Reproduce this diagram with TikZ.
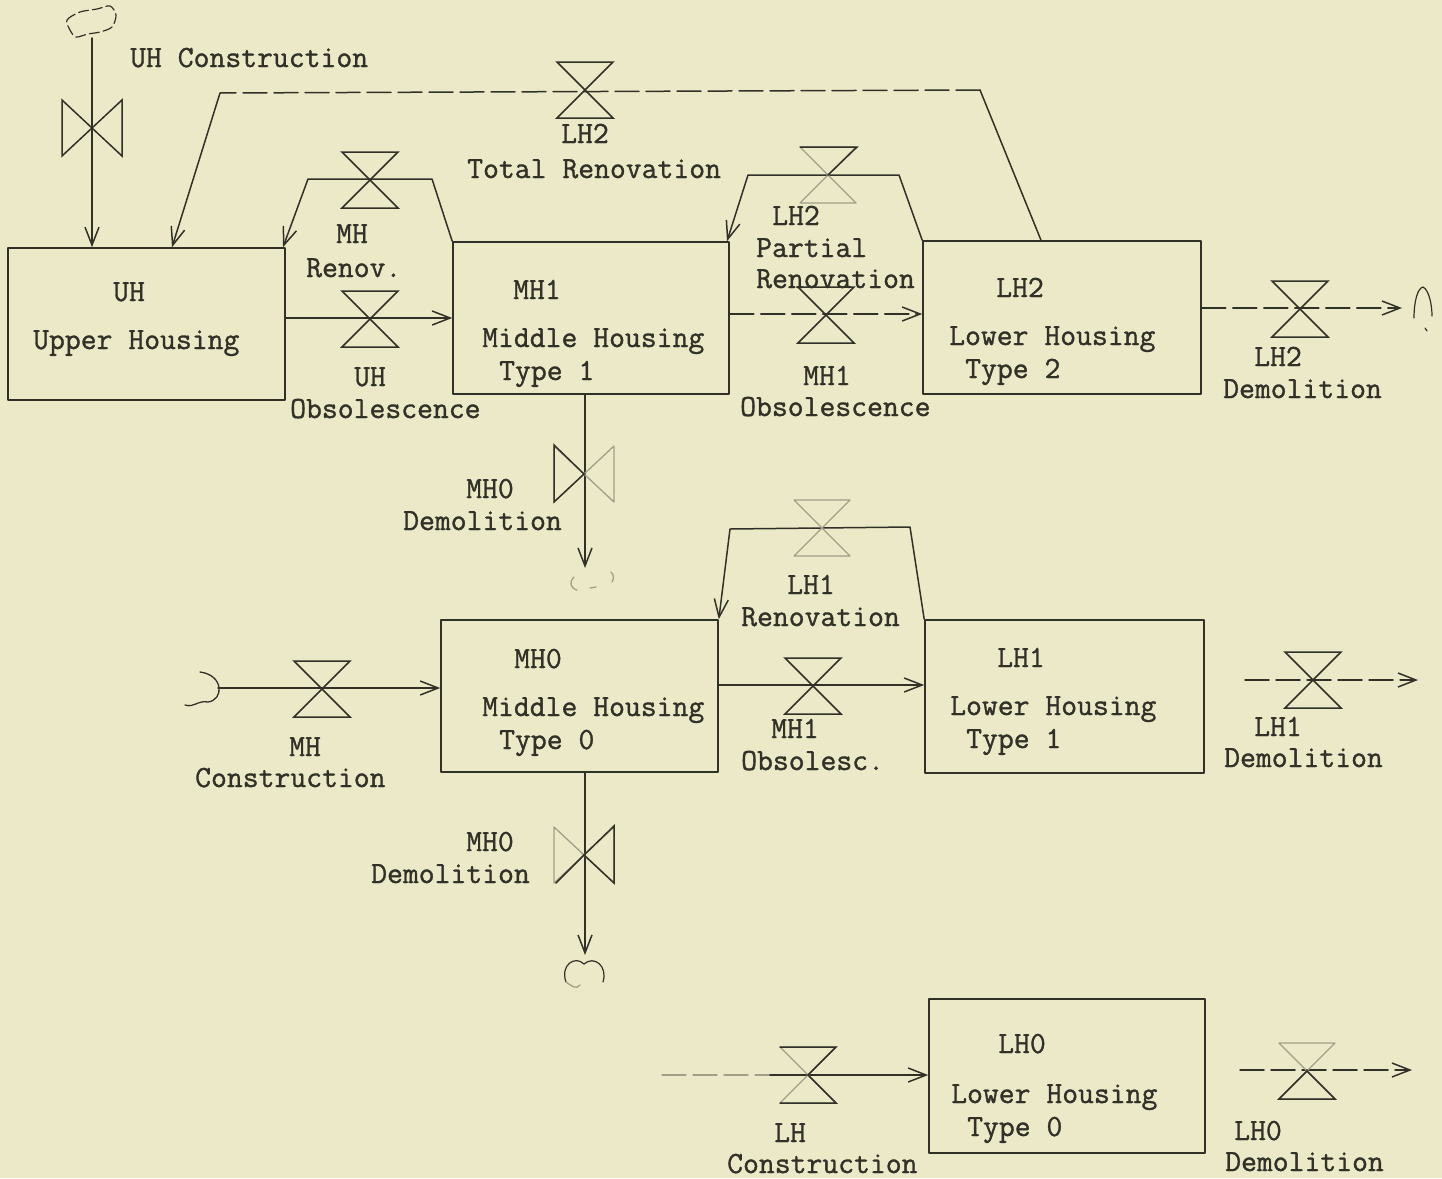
\documentclass[tikz,border=0pt]{standalone}
\usepackage{fontspec}
\newfontfamily\tw[FakeBold=1.1]{Latin Modern Mono}
\usetikzlibrary{arrows.meta,calc}
\definecolor{bg}{RGB}{236,233,200}
\definecolor{ink}{RGB}{50,49,40}
\begin{document}
\begin{tikzpicture}[x=1pt,y=-1pt, line cap=round, line join=round,
  stock/.style={draw=ink, line width=1.6pt, rectangle, inner sep=0pt},
  txt/.style={font=\tw\fontsize{30.8}{36}\selectfont, text=ink, inner sep=0pt, anchor=base west},
  flowline/.style={draw=ink, line width=1.5pt},
  arr/.style={-{Straight Barb[length=18pt,width=14pt]}},
  dashline/.style={dash pattern=on 24pt off 7pt},
  valvesty/.style={draw=ink, line width=1.5pt, line join=miter},
  fade/.style={draw=ink!40!bg, line width=1.3pt},
  hvalve/.pic={\path[pic actions] (-28,-28) -- (28,-28) -- (-28,28) -- (28,28) -- cycle;},
  vvalve/.pic={\path[pic actions] (-30,-28) -- (-30,28) -- (30,-28) -- (30,28) -- cycle;},
]
\fill[bg] (0,0) rectangle (1442,1178);
\useasboundingbox (0,0) rectangle (1442,1178);

% ---------- stocks ----------
\node[stock, minimum width=277pt, minimum height=152pt] (UH)  at (146.5,324) {};
\node[stock, minimum width=276pt, minimum height=152pt] (MH1) at (591,318) {};
\node[stock, minimum width=278pt, minimum height=153pt] (LH2) at (1062,317.5) {};
\node[stock, minimum width=277pt, minimum height=152pt] (MH0) at (579.5,696) {};
\node[stock, minimum width=279pt, minimum height=153pt] (LH1) at (1064.5,696.5) {};
\node[stock, minimum width=276pt, minimum height=154pt] (LH0) at (1067,1076) {};

% ---------- texts ----------
\node[txt] (t01) at (130,67) {UH Construction};
\node[txt] (t02) at (113,301) {UH};
\node[txt] (t03) at (33,349) {Upper Housing};
\node[txt] (t04) at (336,243) {MH};
\node[txt] (t05) at (306,277) {Renov.};
\node[txt] (t06) at (354,386) {UH};
\node[txt] (t07) at (290,418) {Obsolescence};
\node[txt] (t08) at (561,143) {LH2};
\node[txt] (t09) at (467,178) {Total Renovation};
\node[txt] (t10) at (513,299) {MH1};
\node[txt] (t11) at (482,347) {Middle Housing};
\node[txt] (t12) at (499,380) {Type 1};
\node[txt] (t13) at (772,225) {LH2};
\node[txt] (t14) at (756,257) {Partial};
\node[txt] (t15) at (756,288) {Renovation};
\node[txt] (t16) at (803,385) {MH1};
\node[txt] (t17) at (740,416) {Obsolescence};
\node[txt] (t18) at (996,297) {LH2};
\node[txt] (t19) at (949,345) {Lower Housing};
\node[txt] (t20) at (965,378) {Type 2};
\node[txt] (t21) at (1254,366) {LH2};
\node[txt] (t22) at (1223,398) {Demolition};
\node[txt] (t23) at (466,498) {MH0};
\node[txt] (t24) at (403,530) {Demolition};
\node[txt] (t25) at (514,668) {MH0};
\node[txt] (t26) at (482,716) {Middle Housing};
\node[txt] (t27) at (499,749) {Type 0};
\node[txt] (t28) at (787,594) {LH1};
\node[txt] (t29) at (741,626) {Renovation};
\node[txt] (t30) at (289,756) {MH};
\node[txt] (t31) at (195,787) {Construction};
\node[txt] (t32) at (771,738) {MH1};
\node[txt] (t33) at (741,770) {Obsolesc.};
\node[txt] (t34) at (997,667) {LH1};
\node[txt] (t35) at (950,715) {Lower Housing};
\node[txt] (t36) at (966,748) {Type 1};
\node[txt] (t37) at (1254,736) {LH1};
\node[txt] (t38) at (1224,767) {Demolition};
\node[txt] (t39) at (466,851) {MH0};
\node[txt] (t40) at (371,883) {Demolition};
\node[txt] (t41) at (998,1053) {LH0};
\node[txt] (t42) at (951,1103) {Lower Housing};
\node[txt] (t43) at (967,1136) {Type 0};
\node[txt] (t44) at (774,1142) {LH};
\node[txt] (t45) at (727,1173) {Construction};
\node[txt] (t46) at (1234,1140) {LH0};
\node[txt] (t47) at (1225,1171) {Demolition};

% ---------- named points ----------
\coordinate (src1) at (92,38);
\coordinate (tra) at (980,90);
\coordinate (trb) at (220,93);
\coordinate (mra) at (432,179);
\coordinate (mrb) at (308,179);
\coordinate (pra) at (899,175);
\coordinate (prb) at (748,175);
\coordinate (snk1) at (1402,308);
\coordinate (snk2) at (585,568);
\coordinate (src2) at (218,688);
\coordinate (snk3) at (585,955);
\coordinate (lra) at (910,527);
\coordinate (lrb) at (730,529);
\coordinate (l1a) at (1245,680);
\coordinate (l1b) at (1418,680);
\coordinate (lca) at (662,1075);
\coordinate (lcb) at (770,1075);
\coordinate (l0a) at (1240,1070);
\coordinate (l0b) at (1412,1070);

% ---------- flows ----------
\draw[flowline, arr] (src1) -- (UH.north -| src1);
\draw[flowline] (LH2.north -| 1041,0) -- (tra);
\draw[flowline, dashline] (tra) -- (trb);
\draw[flowline, arr] (trb) -- (UH.north -| 172,0);
\draw[flowline, arr] (MH1.north west) -- (mra) -- (mrb) -- (UH.north -| 283,0);
\draw[flowline, arr] (LH2.north west) -- (pra) -- (prb) -- (MH1.north -| 727,0);
\draw[flowline, arr] (UH.east |- 0,318) -- (MH1.west |- 0,318);
\draw[flowline, arr, dashline] (MH1.east |- 0,314) -- (LH2.west |- 0,314);
\draw[flowline, arr, dashline] (LH2.east |- 0,308) -- (snk1);
\draw[flowline, arr] (MH1.south -| 585,0) -- (snk2);
\draw[flowline, arr] (src2) -- (MH0.west |- 0,688);
\draw[flowline, arr] (MH0.south -| 585,0) -- (snk3);
\draw[flowline, arr] (LH1.north west) -- (lra) -- (lrb) -- (MH0.north east);
\draw[flowline, arr] (MH0.east |- 0,685) -- (LH1.west |- 0,685);
\draw[flowline, arr, dashline] (l1a) -- (l1b);
\draw[fade, dashline] (lca) -- (lcb);
\draw[flowline, arr] (lcb) -- (LH0.west |- 0,1075);
\draw[flowline, arr, dashline] (l0a) -- (l0b);

% ---------- valves ----------
\pic[valvesty] (v1) at (92,128) {vvalve};
\pic[valvesty] (v2) at (585,90) {hvalve};
\pic[valvesty] (v3) at (370,180) {hvalve};
\pic[valvesty] (v4) at (370,319) {hvalve};
\pic[fade] (v5) at (828,175) {hvalve};
\draw[valvesty] (800,147) -- (857,147) -- (828,175);
\pic[valvesty] (v6) at (826,315) {hvalve};
\pic[valvesty] (v7) at (1300,309) {hvalve};
\pic[fade] (v8) at (584,474) {vvalve};
\draw[valvesty] (584,474) -- (554,445) -- (554,502) -- cycle;
\pic[valvesty] (v9) at (322,689) {hvalve};
\pic[fade] (v10) at (822,528) {hvalve};
\pic[valvesty] (v11) at (813,686) {hvalve};
\pic[valvesty] (v12) at (1313,680) {hvalve};
\pic[fade] (v13) at (584,855) {vvalve};
\draw[valvesty] (584,855) -- (614,826) -- (614,883) -- cycle;
\draw[valvesty] (584,855) -- (556,883);
\pic[fade] (v14) at (808,1075) {hvalve};
\draw[valvesty] (780,1047) -- (836,1047) -- (808,1075) -- (836,1103) -- (780,1103);
\pic[fade] (v15) at (1307,1071) {hvalve};
\draw[valvesty] (1307,1071) -- (1335,1099) -- (1279,1099) -- cycle;

% ---------- clouds ----------
\draw[draw=ink, line width=1.2pt, dash pattern=on 10pt off 4pt]
  plot[smooth cycle] coordinates {(70,30) (67,20) (80,12) (97,9) (110,6) (116,15) (112,27) (100,32) (88,34) (76,37)};
\draw[draw=ink, line width=1.2pt] (1414,318) .. controls (1414,300) and (1418,288) .. (1423,287)
  .. controls (1429,290) and (1432,305) .. (1432,316);
\draw[draw=ink, line width=1.2pt] (1425,328) -- (1427,331);
\draw[fade] (574,577) .. controls (569,582) and (570,588) .. (577,590);
\draw[fade] (590,588) -- (596,587);
\draw[fade] (611,572) .. controls (614,575) and (614,579) .. (612,582);
\draw[draw=ink, line width=1.3pt] (200,672) .. controls (224,675) and (224,700) .. (208,702)
  .. controls (198,700) and (194,708) .. (185,705);
\draw[draw=ink, line width=1.2pt] (566,982) .. controls (560,965) and (575,955) .. (584,964)
  .. controls (594,955) and (608,966) .. (603,982);
\draw[fade] (566,982) .. controls (572,986) and (576,990) .. (580,985);
\end{tikzpicture}
\end{document}
